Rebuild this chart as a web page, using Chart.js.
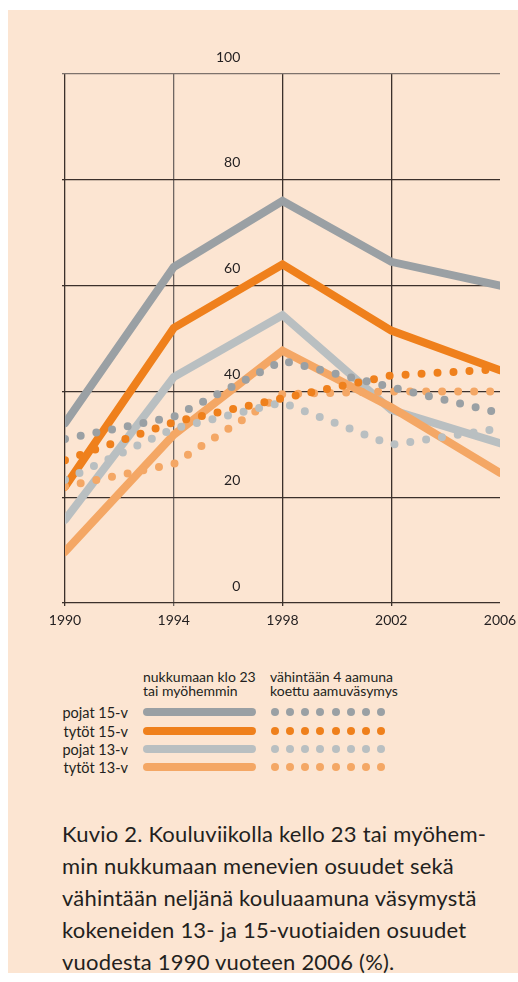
<!DOCTYPE html>
<html>
<head>
<meta charset="utf-8">
<script src="https://cdn.jsdelivr.net/npm/chart.js@4"></script>
<style>
  body { margin: 0; background: #fff; font-family: Lato, "Open Sans", sans-serif; color: #231f20; }
  #page { position: absolute; left: 8px; top: 10px; width: 510px; height: 963px; background: #fce5d2; }
  #wrap { position: absolute; left: 0; top: 0; width: 518px; height: 640px; }
  .txt { position: absolute; font-size: 14px; line-height: 14px; white-space: nowrap; }
  .row { position: absolute; left: 0; width: 518px; height: 18px; }
  .row .lab { position: absolute; right: 390px; top: -8px; font-size: 14.5px; }
  .row .bar { position: absolute; left: 143px; width: 113px; height: 8px; top: -4px; border-radius: 4px; }
  .row .dot { position: absolute; width: 8px; height: 8px; top: -4px; border-radius: 50%; }
  #caption { position: absolute; left: 62px; top: 818px; font-size: 22px; letter-spacing: 0.2px; line-height: 32px; white-space: nowrap; }
</style>
</head>
<body>
<div id="page"></div>
<div id="wrap"><canvas id="myChart" width="518" height="640"></canvas></div>

<div class="txt" style="left:143px; top:670px;">nukkumaan klo 23<br>tai myöhemmin</div>
<div class="txt" style="left:270px; top:670px;">vähintään 4 aamuna<br>koettu aamuväsymys</div>
<div id="legend"></div>

<div id="caption">Kuvio 2. Kouluviikolla kello 23 tai myöhem-<br>min nukkumaan menevien osuudet sekä<br>vähintään neljänä kouluaamuna väsymystä<br>kokeneiden 13- ja 15-vuotiaiden osuudet<br>vuodesta 1990 vuoteen 2006 (%).</div>

<script>
const years = [1990, 1994, 1998, 2002, 2006];
const yTickLabels = [0, 20, 40, 60, 80, 100];

const groups = ["pojat 15-v", "tytöt 15-v", "pojat 13-v", "tytöt 13-v"];
const colors = ["#9aa0a4", "#ef801c", "#b9bfc1", "#f4a765"];

// nukkumaan klo 23 tai myöhemmin (%)
const pojat15Late = [34, 63.5, 76, 64.5, 60];
const tytot15Late = [22, 52, 64, 51.5, 44];
const pojat13Late = [15.7, 42.7, 54.4, 36.5, 30.2];
const tytot13Late = [9.7, 31.8, 47.7, 37, 24.6];

// vähintään 4 aamuna koettu aamuväsymys (%)
const pojat15Tired = [31, 35.2, 45.8, 40.8, 35.9];
const tytot15Tired = [27, 34.2, 38.7, 43, 44.2];
const pojat13Tired = [23.3, 33, 37.9, 29.9, 33];
const tytot13Tired = [22, 26.3, 39.5, 40, 40];

const lateData = [pojat15Late, tytot15Late, pojat13Late, tytot13Late];
const tiredData = [pojat15Tired, tytot15Tired, pojat13Tired, tytot13Tired];

function points(arr) {
  return arr.map((v, i) => ({ x: years[i], y: v }));
}

let datasets = [];
// dotted first so they sit on top
tiredData.forEach((d, i) => {
  datasets.push({
    label: groups[i] + " väsymys",
    data: points(d),
    borderColor: colors[i],
    borderWidth: 8,
    borderDash: [0, 16],
    borderCapStyle: "round",
    pointRadius: 0,
    tension: 0,
  });
});
// solid, light orange on top
[3, 2, 1, 0].forEach((i) => {
  datasets.push({
    label: groups[i],
    data: points(lateData[i]),
    borderColor: colors[i],
    borderWidth: 8,
    borderCapStyle: "round",
    pointRadius: 0,
    tension: 0,
  });
});

const yLabelPlugin = {
  id: "yLabels",
  afterDraw(chart) {
    const { ctx, scales } = chart;
    ctx.save();
    ctx.font = "14px Lato";
    ctx.fillStyle = "#231f20";
    ctx.textAlign = "right";
    ctx.textBaseline = "middle";
    const x = scales.x.getPixelForValue(1996.45);
    yTickLabels.forEach((v) => {
      ctx.fillText(String(v), x, scales.y.getPixelForValue(v) - 17);
    });
    ctx.restore();
  },
};

const ctx = document.getElementById("myChart").getContext("2d");
new Chart(ctx, {
  type: "line",
  data: { datasets: datasets },
  plugins: [yLabelPlugin],
  options: {
    responsive: false,
    animation: false,
    layout: { padding: { left: 65, right: 18, top: 74, bottom: 7 } },
    plugins: { legend: { display: false }, tooltip: { enabled: false } },
    scales: {
      x: {
        type: "linear",
        min: 1990,
        max: 2006,
        afterFit: (axis) => { axis.height = 30; axis.paddingLeft = 0; axis.paddingRight = 0; },
        border: { display: false },
        grid: {
          color: (c) => (c.tick && c.tick.value === 2006 ? "rgba(0,0,0,0)" : (c.tick && c.tick.value === 1994 ? "#6f6662" : "#3b302b")),
          lineWidth: 1.3,
          tickLength: 3,
        },
        ticks: {
          stepSize: 4,
          padding: 6,
          color: "#231f20",
          font: { family: "Lato", size: 14 },
          callback: (v) => String(v),
        },
      },
      y: {
        min: 0,
        max: 100,
        afterFit: (axis) => { axis.width = 0; axis.paddingTop = 0; axis.paddingBottom = 0; },
        border: { display: false },
        grid: { color: (c) => (c.tick && c.tick.value === 100 ? "#7d726c" : "#3b302b"), lineWidth: 1.3, tickLength: 3 },
        ticks: { stepSize: 20, display: false },
      },
    },
  },
});

// legend
const legend = document.getElementById("legend");
const rowY = [712, 731, 749, 767];
groups.forEach((g, i) => {
  const row = document.createElement("div");
  row.className = "row";
  row.style.top = rowY[i] + "px";
  let html = '<span class="lab">' + g + '</span><div class="bar" style="background:' + colors[i] + '"></div>';
  for (let k = 0; k < 8; k++) {
    html += '<div class="dot" style="left:' + (271 + k * 15.15) + 'px;background:' + colors[i] + '"></div>';
  }
  row.innerHTML = html;
  legend.appendChild(row);
});
</script>
</body>
</html>
